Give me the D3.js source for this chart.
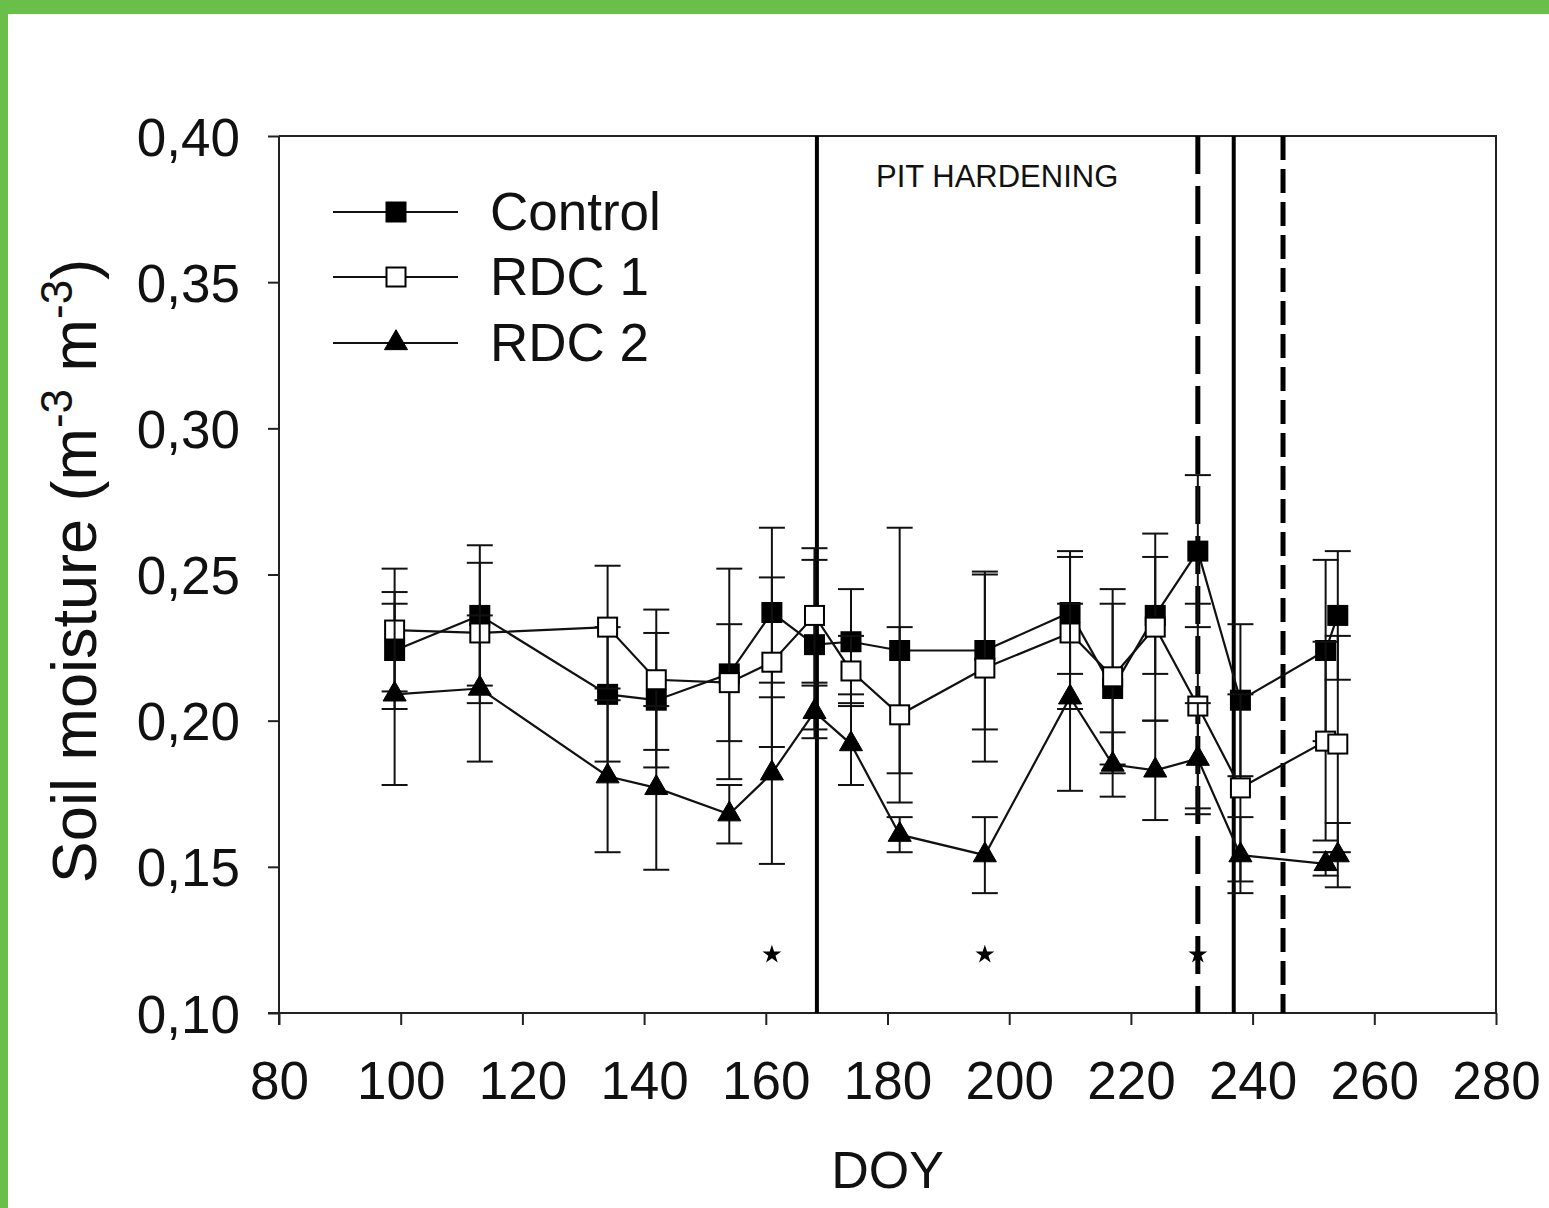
<!DOCTYPE html>
<html>
<head>
<meta charset="utf-8">
<script src="https://cdn.jsdelivr.net/npm/d3@7"></script>
<style>
  body { margin: 0; background: #fff; }
  svg text { font-family: "Liberation Sans", Arial, sans-serif; fill: #111; }
</style>
</head>
<body>
<svg id="chart" width="1549" height="1208"></svg>
<script>
// day of year of each sampling
var doy = [99, 113, 134, 142, 154, 161, 168, 174, 182, 196, 210, 217, 224, 231, 238, 252, 254];

// soil moisture means and error bars (m3 m-3)
var control    = [0.224, 0.236, 0.209, 0.207, 0.216, 0.237, 0.226, 0.227, 0.224, 0.224, 0.237, 0.211, 0.236, 0.258, 0.207, 0.224, 0.236];
var controlErr = [0.020, 0.024, 0.023, 0.023, 0.036, 0.029, 0.029, 0.018, 0.042, 0.027, 0.021, 0.029, 0.020, 0.026, 0.026, 0.031, 0.022];
var rdc1       = [0.231, 0.230, 0.232, 0.214, 0.213, 0.220, 0.236, 0.217, 0.202, 0.218, 0.230, 0.215, 0.232, 0.205, 0.177, 0.193, 0.192];
var rdc1Err    = [0.021, 0.024, 0.021, 0.024, 0.020, 0.029, 0.023, 0.012, 0.030, 0.032, 0.026, 0.030, 0.032, 0.035, 0.032, 0.034, 0.037];
var rdc2       = [0.209, 0.211, 0.181, 0.177, 0.168, 0.182, 0.203, 0.192, 0.161, 0.154, 0.208, 0.185, 0.183, 0.187, 0.154, 0.151, 0.154];
var rdc2Err    = [0.031, 0.025, 0.026, 0.028, 0.010, 0.031, 0.009, 0.014, 0.006, 0.013, 0.032, 0.011, 0.017, 0.019, 0.013, 0.004, 0.011];

var seriesNames = ["Control", "RDC 1", "RDC 2"];

// significance stars
var starDoy = [161, 196, 231];
var starValue = 0.12;

// phase markers
var solidLines = [168.4, 236.9];
var dashedLines = [231, 245];
var phaseLabel = "PIT HARDENING";

var xTicks = [80, 100, 120, 140, 160, 180, 200, 220, 240, 260, 280];
var yTicks = [0.10, 0.15, 0.20, 0.25, 0.30, 0.35, 0.40];

var svg = d3.select('#chart');

// green page border
svg.append('rect').attr('x', 0).attr('y', 0).attr('width', 1549).attr('height', 1208).attr('fill', '#6abf4b');
svg.append('rect').attr('x', 8).attr('y', 14).attr('width', 1541).attr('height', 1194).attr('fill', '#ffffff');

var x = d3.scaleLinear().domain([80, 280]).range([279, 1496]);
var y = d3.scaleLinear().domain([0.10, 0.40]).range([1013, 136]);

// frame top + right
svg.append('path')
    .attr('d', 'M' + x(80) + ',' + y(0.40) + 'H' + x(280) + 'V' + y(0.10))
    .attr('fill', 'none').attr('stroke', '#222').attr('stroke-width', 2);

var fmt = function(d) { return d3.format('.2f')(d).replace('.', ','); };

var yAxis = svg.append('g')
    .attr('transform', 'translate(' + x(80) + ',0)')
    .call(d3.axisLeft(y).tickValues(yTicks).tickFormat(fmt).tickSize(11).tickSizeOuter(0).tickPadding(28));

var xAxis = svg.append('g')
    .attr('transform', 'translate(0,' + y(0.10) + ')')
    .call(d3.axisBottom(x).tickValues(xTicks).tickSize(12).tickSizeOuter(0).tickPadding(36));

[yAxis, xAxis].forEach(function(a) {
  a.selectAll('path, line').attr('stroke', '#222').attr('stroke-width', 2);
  a.selectAll('text').attr('font-size', 53).attr('fill', '#111')
      .style('font-family', '"Liberation Sans", Arial, sans-serif');
});
yAxis.selectAll('text').attr('dy', '0.36em');
// x axis line extends past the 80 tick like the original
xAxis.select('.domain').attr('d', 'M' + (x(80) - 11) + ',0H' + x(280));
yAxis.select('.domain').attr('d', 'M0,' + (y(0.40)) + 'V' + (y(0.10) + 12));

// axis titles
svg.append('text')
    .attr('x', x(180)).attr('y', 1188)
    .attr('text-anchor', 'middle').attr('font-size', 52)
    .text('DOY');

var yTitle = svg.append('text')
    .attr('transform', 'translate(96,571) rotate(-90)')
    .attr('text-anchor', 'middle').attr('font-size', 63);
yTitle.append('tspan').text('Soil moisture (m');
yTitle.append('tspan').attr('dy', -24).attr('font-size', 44).text('-3');
yTitle.append('tspan').attr('dy', 24).text(' m');
yTitle.append('tspan').attr('dy', -24).attr('font-size', 44).text('-3');
yTitle.append('tspan').attr('dy', 24).text(')');

// vertical phase lines
svg.append('g').selectAll('line')
    .data(solidLines)
    .enter().append('line')
    .attr('x1', function(d) { return x(d); }).attr('x2', function(d) { return x(d); })
    .attr('y1', y(0.40)).attr('y2', y(0.10))
    .attr('stroke', '#000').attr('stroke-width', 4);

svg.append('g').selectAll('line')
    .data(dashedLines)
    .enter().append('line')
    .attr('x1', function(d) { return x(d); }).attr('x2', function(d) { return x(d); })
    .attr('y1', y(0.40)).attr('y2', y(0.10))
    .attr('stroke', '#000').attr('stroke-width', 5)
    .attr('stroke-dasharray', function(d, i) { return i == 0 ? '38,12' : '24,9'; });

svg.append('text')
    .attr('x', 876).attr('y', 187)
    .attr('font-size', 31)
    .text(phaseLabel);

// series
var seriesData = [
  { name: seriesNames[0], vals: control, err: controlErr, shape: 'square', fill: '#000' },
  { name: seriesNames[1], vals: rdc1, err: rdc1Err, shape: 'square', fill: '#fff' },
  { name: seriesNames[2], vals: rdc2, err: rdc2Err, shape: 'triangle', fill: '#000' }
];

function marker(sel, s) {
  if (s.shape == 'square') {
    sel.append('rect')
        .attr('x', -9.5).attr('y', -9.5).attr('width', 19).attr('height', 19)
        .attr('fill', s.fill).attr('stroke', '#000').attr('stroke-width', 2);
  } else {
    sel.append('path')
        .attr('d', d3.symbol().type(d3.symbolTriangle).size(230)())
        .attr('fill', s.fill).attr('stroke', '#000').attr('stroke-width', 1);
  }
}

var line = d3.line()
    .x(function(d) { return x(d[0]); })
    .y(function(d) { return y(d[1]); });

seriesData.forEach(function(s) {
  var pts = doy.map(function(d, i) { return [d, s.vals[i], s.err[i]]; });
  var g = svg.append('g');

  g.append('path')
      .attr('d', line(pts))
      .attr('fill', 'none').attr('stroke', '#111').attr('stroke-width', 2.2);

  var bars = g.selectAll('.err').data(pts).enter().append('g').attr('class', 'err');
  bars.append('line')
      .attr('x1', function(d) { return x(d[0]); }).attr('x2', function(d) { return x(d[0]); })
      .attr('y1', function(d) { return y(d[1] - d[2]); }).attr('y2', function(d) { return y(d[1] + d[2]); })
      .attr('stroke', '#111').attr('stroke-width', 2);
  [-1, 1].forEach(function(sign) {
    bars.append('line')
        .attr('x1', function(d) { return x(d[0]) - 13; }).attr('x2', function(d) { return x(d[0]) + 13; })
        .attr('y1', function(d) { return y(d[1] + sign * d[2]); }).attr('y2', function(d) { return y(d[1] + sign * d[2]); })
        .attr('stroke', '#111').attr('stroke-width', 2);
  });

  g.selectAll('.pt').data(pts).enter().append('g')
      .attr('class', 'pt')
      .attr('transform', function(d) { return 'translate(' + x(d[0]) + ',' + y(d[1]) + ')'; })
      .each(function() { marker(d3.select(this), s); });
});

// stars
svg.append('g').selectAll('path')
    .data(starDoy)
    .enter().append('path')
    .attr('transform', function(d) { return 'translate(' + x(d) + ',' + y(starValue) + ')'; })
    .attr('d', d3.symbol().type(d3.symbolStar).size(110)())
    .attr('fill', '#000');

// legend
var legend = svg.append('g');
var legendRows = [212, 277, 343];
seriesData.forEach(function(s, i) {
  var row = legend.append('g').attr('transform', 'translate(0,' + legendRows[i] + ')');
  row.append('line').attr('x1', 333).attr('x2', 458).attr('y1', 0).attr('y2', 0)
      .attr('stroke', '#111').attr('stroke-width', 2);
  var m = row.append('g').attr('transform', 'translate(396,0)');
  marker(m, s);
  row.append('text').attr('x', 490).attr('y', 18).attr('font-size', 53).text(s.name);
});
</script>
</body>
</html>
